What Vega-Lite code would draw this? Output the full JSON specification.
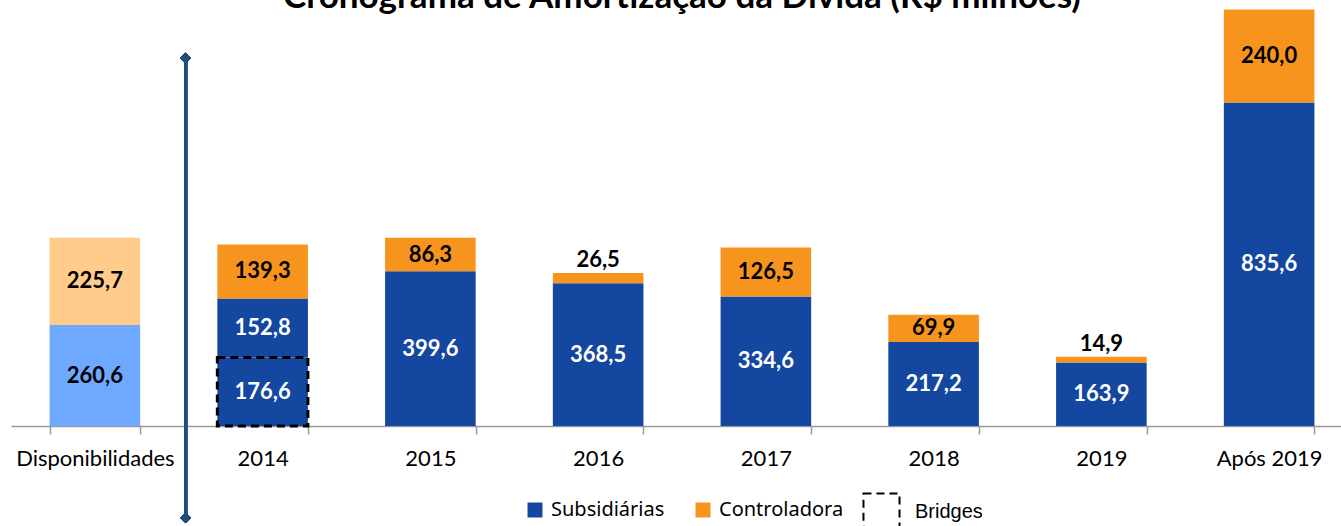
{
  "$schema": "https://vega.github.io/schema/vega-lite/v6.json",
  "width": 1330,
  "height": 426,
  "autosize": {"type": "none"},
  "padding": {"left": 11, "top": 0, "right": 0, "bottom": 100},
  "config": {
    "locale": {"number": {"decimal": ",", "thousands": ".", "grouping": [3], "currency": ["R$ ", ""]}},
    "view": {"stroke": null},
    "font": "Lato"
  },
  "title": {
    "text": "Cronograma de Amortização da Dívida (R$ milhões)",
    "font": "Lato",
    "fontSize": 35,
    "fontWeight": "bold",
    "color": "black",
    "anchor": "middle",
    "baseline": "alphabetic",
    "dx": 6,
    "dy": 47
  },
  "data": {
    "values": [
      {"categoria": "Disponibilidades", "serie": "Subsidiárias", "componente": "Outros", "valor": 260.6},
      {"categoria": "Disponibilidades", "serie": "Controladora", "componente": "Outros", "valor": 225.7},
      {"categoria": "2014", "serie": "Subsidiárias", "componente": "Bridges", "valor": 176.6},
      {"categoria": "2014", "serie": "Subsidiárias", "componente": "Outros", "valor": 152.8},
      {"categoria": "2014", "serie": "Controladora", "componente": "Outros", "valor": 139.3},
      {"categoria": "2015", "serie": "Subsidiárias", "componente": "Outros", "valor": 399.6},
      {"categoria": "2015", "serie": "Controladora", "componente": "Outros", "valor": 86.3},
      {"categoria": "2016", "serie": "Subsidiárias", "componente": "Outros", "valor": 368.5},
      {"categoria": "2016", "serie": "Controladora", "componente": "Outros", "valor": 26.5},
      {"categoria": "2017", "serie": "Subsidiárias", "componente": "Outros", "valor": 334.6},
      {"categoria": "2017", "serie": "Controladora", "componente": "Outros", "valor": 126.5},
      {"categoria": "2018", "serie": "Subsidiárias", "componente": "Outros", "valor": 217.2},
      {"categoria": "2018", "serie": "Controladora", "componente": "Outros", "valor": 69.9},
      {"categoria": "2019", "serie": "Subsidiárias", "componente": "Outros", "valor": 163.9},
      {"categoria": "2019", "serie": "Controladora", "componente": "Outros", "valor": 14.9},
      {"categoria": "Após 2019", "serie": "Subsidiárias", "componente": "Outros", "valor": 835.6},
      {"categoria": "Após 2019", "serie": "Controladora", "componente": "Outros", "valor": 240.0}
    ]
  },
  "transform": [
    {"stack": "valor", "groupby": ["categoria"], "sort": [{"field": "serie", "order": "descending"}, {"field": "componente", "order": "ascending"}], "as": ["y0", "y1"]},
    {"calculate": "(datum.y0 + datum.y1) / 2", "as": "ymid"}
  ],
  "encoding": {
    "x": {
      "field": "categoria",
      "type": "nominal",
      "sort": ["Disponibilidades", "2014", "2015", "2016", "2017", "2018", "2019", "Após 2019"],
      "scale": {"range": [0, 1342], "paddingInner": 0.46, "paddingOuter": 0.23},
      "axis": {
        "title": null,
        "labelAngle": 0,
        "labelFont": "Lato",
        "labelFontSize": 22,
        "labelColor": "black",
        "labelPadding": 14,
        "tickBand": "extent",
        "tickSize": 8,
        "tickColor": "#9a9a9a",
        "tickWidth": 1.5,
        "domainColor": "#9a9a9a",
        "domainWidth": 1.5
      }
    }
  },
  "layer": [
    {
      "mark": {"type": "bar"},
      "encoding": {
        "y": {"field": "y0", "type": "quantitative", "scale": {"domain": [0, 1100], "nice": false}, "axis": null},
        "y2": {"field": "y1"},
        "color": {
          "condition": [
            {"test": "datum.categoria === 'Disponibilidades' && datum.serie === 'Subsidiárias'", "value": "#6FA8FF"},
            {"test": "datum.categoria === 'Disponibilidades' && datum.serie === 'Controladora'", "value": "#FFCC8C"}
          ],
          "field": "serie",
          "type": "nominal",
          "scale": {"domain": ["Subsidiárias", "Controladora"], "range": ["#1447A0", "#F7941D"]},
          "legend": {
            "title": null,
            "orient": "none",
            "direction": "horizontal",
            "legendX": 514,
            "legendY": 500,
            "padding": 0,
            "symbolType": "square",
            "symbolSize": 225,
            "symbolStrokeWidth": 0,
            "labelFont": "Noto Sans",
            "labelFontSize": 20,
            "labelColor": "black",
            "labelOffset": 6,
            "columnPadding": 28
          }
        }
      }
    },
    {
      "transform": [{"filter": "datum.componente === 'Bridges'"}],
      "mark": {"type": "bar", "filled": false, "stroke": "black", "strokeWidth": 3},
      "encoding": {
        "y": {"field": "y0", "type": "quantitative"},
        "y2": {"field": "y1"},
        "strokeDash": {
          "field": "componente",
          "type": "nominal",
          "scale": {"domain": ["Bridges"], "range": [[8, 5]]},
          "legend": {
            "title": null,
            "orient": "none",
            "legendX": 851,
            "legendY": 492,
            "padding": 0,
            "symbolType": "square",
            "symbolSize": 1300,
            "symbolStrokeColor": "black",
            "symbolFillColor": "transparent",
            "symbolStrokeWidth": 2,
            "labelFont": "Liberation Sans",
            "labelFontSize": 20,
            "labelColor": "black",
            "labelOffset": 14
          }
        }
      }
    },
    {
      "transform": [{"filter": "datum.valor >= 40"}],
      "mark": {"type": "text", "font": "Lato", "fontWeight": "bold", "fontSize": 22, "baseline": "middle"},
      "encoding": {
        "y": {"field": "ymid", "type": "quantitative"},
        "text": {"field": "valor", "type": "quantitative", "format": ".1f"},
        "color": {
          "condition": {"test": "datum.serie === 'Subsidiárias' && datum.categoria !== 'Disponibilidades'", "value": "white"},
          "value": "black"
        }
      }
    },
    {
      "transform": [{"filter": "datum.valor < 40"}],
      "mark": {"type": "text", "font": "Lato", "fontWeight": "bold", "fontSize": 22, "baseline": "bottom", "dy": -1, "color": "black"},
      "encoding": {
        "y": {"field": "y1", "type": "quantitative"},
        "text": {"field": "valor", "type": "quantitative", "format": ".1f"}
      }
    },
    {
      "mark": {"type": "rule", "color": "#1F4E79", "strokeWidth": 3, "xOffset": -77},
      "encoding": {
        "x": {"datum": "2014"},
        "y": {"datum": 950},
        "y2": {"datum": -237}
      }
    },
    {
      "mark": {"type": "point", "shape": "diamond", "filled": true, "color": "#1F4E79", "size": 110, "opacity": 1, "xOffset": -77},
      "encoding": {
        "x": {"datum": "2014"},
        "y": {"datum": 950}
      }
    },
    {
      "mark": {"type": "point", "shape": "diamond", "filled": true, "color": "#1F4E79", "size": 110, "opacity": 1, "xOffset": -77},
      "encoding": {
        "x": {"datum": "2014"},
        "y": {"datum": -237}
      }
    }
  ]
}
